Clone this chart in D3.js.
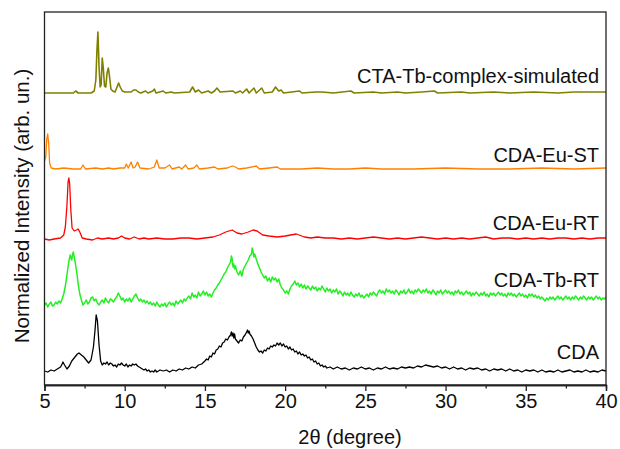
<!DOCTYPE html>
<html>
<head>
<meta charset="utf-8">
<script src="https://cdn.jsdelivr.net/npm/d3@7"></script>
<style>
  html, body { margin: 0; padding: 0; background: #fff; }
  svg { display: block; font-family: Arial, "Liberation Sans", sans-serif; }
</style>
</head>
<body>
<svg id="chart" width="620" height="449"></svg>
<script>
// ---------- data (2θ in degrees, normalized intensity incl. stacking offset) ----------
const seriesNames = ["CTA-Tb-complex-simulated", "CDA-Eu-ST", "CDA-Eu-RT", "CDA-Tb-RT", "CDA"];
const seriesColors = ["#808000", "#ff8000", "#ff0000", "#22ee22", "#000000"];
const xTicks = [5, 10, 15, 20, 25, 30, 35, 40];
const xMinorTicks = [7.5, 12.5, 17.5, 22.5, 27.5, 32.5, 37.5];

const ctaSim = [[5,292],[6.8,292],[6.94,294],[7.1,292],[7.9,292],[8.1,294],[8.2,305],[8.27,335],[8.33,353],[8.4,318],[8.47,298],[8.53,300],[8.6,327],[8.66,318],[8.74,299],[8.82,298],[8.9,312],[8.98,317],[9.05,309],[9.14,296],[9.25,294],[9.4,293],[9.52,298],[9.62,302],[9.72,298],[9.85,294],[10.0,293],[10.4,293],[10.55,295],[10.7,295],[10.85,293],[11.0,292],[11.3,294],[11.45,292],[11.75,294],[11.85,296],[11.95,292],[12.4,294],[12.55,292],[12.9,293],[13.1,292],[14.05,293],[14.23,298],[14.4,293],[14.6,295],[14.8,292],[15.2,294],[15.4,292],[15.6,294],[15.75,297],[15.95,293],[16.75,294],[16.9,292],[17.2,294],[17.35,292],[17.6,296],[17.75,292],[18.06,297],[18.2,292],[18.54,297],[18.7,292],[19.2,293],[19.4,298],[19.6,294],[19.75,295],[19.9,292],[20.9,294],[21.05,292],[21.9,293],[22.3,293],[23.0,292],[24.1,294],[24.3,292],[25.5,293],[26.0,292],[27.0,293],[27.5,292],[28.5,293],[29.3,294],[29.5,292],[31,293],[31.5,292],[33,293],[34,292],[35.5,293],[37,292],[38,293],[40,293]];

const cdaEuST = [[5.0,224],[5.08,228],[5.14,246],[5.2,251],[5.26,242],[5.32,222],[5.42,217],[5.7,216],[6.2,217],[6.8,216],[7.25,216],[7.4,220],[7.55,216],[8.2,217],[8.6,216],[9.0,217],[9.3,216],[9.7,217],[10.0,217],[10.1,221],[10.22,217],[10.4,223],[10.52,217],[10.65,218],[10.8,223],[10.95,217],[11.5,216],[11.85,218],[12.0,225],[12.15,217],[12.5,217],[12.8,220],[12.95,216],[13.4,218],[13.55,216],[13.8,220],[13.95,216],[14.3,217],[14.5,220],[14.65,216],[15.2,217],[15.6,218],[15.8,216],[16.4,217],[16.7,219],[16.9,218],[17.1,216],[17.6,217],[18.2,219],[18.4,216],[19.0,217],[19.5,218],[19.7,216],[21,216],[22,217],[23,216],[24,216],[25,217],[26,216],[28,216],[30,217],[32,216],[34,216],[36,217],[38,216],[40,217]];

const cdaEuRT = [[5,146],[5.3,145],[5.6,146],[6.0,147],[6.2,150],[6.3,158],[6.4,180],[6.47,203],[6.52,207],[6.57,201],[6.64,175],[6.72,157],[6.85,154],[7.0,155],[7.1,156],[7.2,153],[7.35,147],[7.6,146],[8.0,145],[8.3,147],[8.6,146],[9.0,147],[9.3,146],[9.6,147],[9.8,149],[10.0,147],[10.3,146],[10.6,148],[10.9,146],[11.2,147],[11.5,146],[12.0,147],[12.5,146],[13,146],[13.5,147],[14,147],[14.5,146],[15,147],[15.5,148],[15.9,150],[16.3,153],[16.7,155],[17.0,152],[17.3,151],[17.7,153],[18.0,155],[18.25,154],[18.6,150],[19.0,149],[19.5,148],[20.0,149],[20.7,151],[21.2,148],[21.6,147],[22,148],[22.5,147],[23,147],[23.5,146],[24,147],[24.5,146],[25,147],[25.5,148],[26,147],[26.5,146],[27,147],[27.5,146],[28,147],[28.5,148],[29,147],[29.5,146],[30,147],[30.5,146],[31,147],[31.5,146],[32,147],[32.5,148],[33,146],[33.5,147],[34,147],[34.5,146],[35,147],[35.5,146],[36,147],[36.5,146],[37,147],[37.5,147],[38,146],[38.5,147],[39,146],[39.5,147],[40,147]];

const cdaTbRT = [[5.0,80],[5.1,82],[5.2,78],[5.3,81],[5.4,83],[5.5,79],[5.6,80],[5.7,83],[5.8,81],[5.9,84],[6.0,82],[6.1,86],[6.2,91],[6.3,99],[6.4,110],[6.5,122],[6.6,130],[6.65,127],[6.7,125],[6.75,131],[6.8,133],[6.85,128],[6.9,124],[7.0,114],[7.1,101],[7.2,91],[7.3,85],[7.4,80],[7.5,82],[7.6,85],[7.7,81],[7.8,83],[7.9,87],[8.0,88],[8.1,84],[8.2,86],[8.3,82],[8.4,80],[8.5,83],[8.6,85],[8.7,82],[8.8,87],[8.9,84],[9.0,82],[9.1,86],[9.2,85],[9.3,83],[9.4,86],[9.5,88],[9.6,92],[9.7,89],[9.8,85],[9.9,87],[10.0,83],[10.1,86],[10.2,84],[10.3,87],[10.4,83],[10.5,86],[10.6,89],[10.7,91],[10.8,87],[10.9,84],[11.0,86],[11.1,83],[11.2,85],[11.3,82],[11.4,84],[11.5,81],[11.6,83],[11.7,80],[11.8,82],[11.9,79],[12.0,83],[12.1,80],[12.2,78],[12.3,81],[12.4,79],[12.5,82],[12.6,78],[12.7,81],[12.8,83],[12.9,80],[13.0,82],[13.1,79],[13.2,84],[13.3,81],[13.4,83],[13.5,85],[13.6,82],[13.7,86],[13.8,84],[13.9,87],[14.0,89],[14.1,86],[14.2,92],[14.3,88],[14.4,90],[14.5,87],[14.6,93],[14.7,89],[14.8,91],[14.9,94],[15.0,90],[15.1,93],[15.2,89],[15.3,91],[15.4,88],[15.5,92],[15.6,95],[15.7,97],[15.8,100],[15.9,102],[16.0,105],[16.1,108],[16.2,111],[16.3,113],[16.4,117],[16.5,120],[16.6,123],[16.65,129],[16.7,126],[16.75,118],[16.8,121],[16.85,116],[16.9,119],[17.0,113],[17.1,110],[17.2,114],[17.3,109],[17.4,116],[17.5,119],[17.6,122],[17.7,125],[17.8,129],[17.9,131],[17.95,137],[18.0,133],[18.05,128],[18.1,131],[18.2,126],[18.3,121],[18.4,117],[18.5,113],[18.6,110],[18.7,107],[18.8,109],[18.9,104],[19.0,107],[19.1,103],[19.2,108],[19.3,105],[19.4,107],[19.5,103],[19.6,106],[19.7,100],[19.8,97],[19.9,95],[20.0,92],[20.1,94],[20.2,91],[20.3,96],[20.4,99],[20.5,101],[20.6,104],[20.7,100],[20.8,102],[20.9,98],[21.0,101],[21.1,97],[21.2,100],[21.3,96],[21.4,99],[21.5,97],[21.6,95],[21.7,99],[21.8,96],[21.9,98],[22.0,94],[22.1,97],[22.2,95],[22.3,99],[22.4,96],[22.5,93],[22.6,97],[22.7,94],[22.8,96],[22.9,92],[23.0,95],[23.1,93],[23.2,96],[23.3,91],[23.4,94],[23.5,92],[23.6,89],[23.7,93],[23.8,90],[23.9,92],[24.0,89],[24.1,93],[24.2,90],[24.3,88],[24.4,91],[24.5,89],[24.6,92],[24.7,88],[24.8,90],[24.9,87],[25.0,89],[25.1,91],[25.2,88],[25.3,92],[25.4,90],[25.5,93],[25.6,91],[25.7,89],[25.8,93],[25.9,95],[26.0,92],[26.1,94],[26.2,91],[26.3,96],[26.4,93],[26.5,95],[26.6,92],[26.7,94],[26.8,91],[26.9,95],[27.0,93],[27.1,90],[27.2,94],[27.3,92],[27.4,95],[27.5,91],[27.6,93],[27.7,96],[27.8,92],[27.9,94],[28.0,91],[28.1,95],[28.2,93],[28.3,96],[28.4,94],[28.5,92],[28.6,95],[28.7,93],[28.8,96],[28.9,92],[29.0,94],[29.1,91],[29.2,95],[29.3,93],[29.4,90],[29.5,94],[29.6,92],[29.7,95],[29.8,91],[29.9,93],[30.0,95],[30.1,92],[30.2,94],[30.3,91],[30.4,93],[30.5,90],[30.6,94],[30.7,92],[30.8,95],[30.9,91],[31.0,93],[31.1,90],[31.2,92],[31.3,94],[31.4,91],[31.5,93],[31.6,89],[31.7,92],[31.8,90],[31.9,93],[32.0,91],[32.1,89],[32.2,92],[32.3,90],[32.4,93],[32.5,89],[32.6,91],[32.7,88],[32.8,92],[32.9,90],[33.0,92],[33.1,89],[33.2,91],[33.3,93],[33.4,90],[33.5,92],[33.6,89],[33.7,91],[33.8,88],[33.9,92],[34.0,90],[34.1,92],[34.2,89],[34.3,91],[34.4,88],[34.5,90],[34.6,92],[34.7,89],[34.8,91],[34.9,88],[35.0,90],[35.1,87],[35.2,91],[35.3,89],[35.4,91],[35.5,88],[35.6,90],[35.7,87],[35.8,89],[35.9,86],[36.0,88],[36.1,86],[36.2,84],[36.3,87],[36.4,85],[36.5,88],[36.6,86],[36.7,88],[36.8,85],[36.9,87],[37.0,89],[37.1,86],[37.2,88],[37.3,85],[37.4,87],[37.5,89],[37.6,86],[37.7,88],[37.8,85],[37.9,88],[38.0,86],[38.1,89],[38.2,87],[38.3,85],[38.4,88],[38.5,86],[38.6,89],[38.7,87],[38.8,85],[38.9,88],[39.0,86],[39.1,88],[39.2,85],[39.3,87],[39.4,89],[39.5,86],[39.6,88],[39.7,85],[39.8,87],[39.9,86],[40.0,88]];

const cda = [[5.0,14],[5.2,13],[5.4,15],[5.6,14],[5.8,16],[6.0,18],[6.1,21],[6.15,23],[6.25,20],[6.4,16],[6.55,19],[6.7,24],[6.9,28],[7.05,31],[7.15,32],[7.3,30],[7.45,28],[7.6,25],[7.75,22],[7.9,25],[8.05,38],[8.15,55],[8.22,70],[8.3,64],[8.4,40],[8.5,24],[8.6,20],[8.7,22],[8.8,21],[8.9,23],[9.0,20],[9.1,22],[9.2,21],[9.3,19],[9.4,20],[9.5,18],[9.6,21],[9.7,20],[9.8,22],[9.9,20],[10.0,19],[10.1,21],[10.2,18],[10.3,20],[10.4,19],[10.5,21],[10.6,20],[10.7,21],[10.8,19],[10.9,18],[11.0,17],[11.1,16],[11.2,15],[11.3,16],[11.4,14],[11.5,15],[11.6,13],[11.7,14],[11.8,13],[11.9,15],[12.0,13],[12.2,15],[12.4,14],[12.6,15],[12.8,13],[13.0,15],[13.2,14],[13.4,16],[13.6,15],[13.8,17],[14.0,16],[14.2,18],[14.4,17],[14.6,20],[14.8,21],[15.0,24],[15.1,26],[15.2,25],[15.3,29],[15.4,28],[15.5,32],[15.6,31],[15.7,35],[15.8,36],[15.9,39],[16.0,38],[16.1,42],[16.2,43],[16.3,46],[16.4,45],[16.5,48],[16.6,50],[16.65,53],[16.7,49],[16.75,52],[16.8,47],[16.85,51],[16.9,46],[17.0,44],[17.1,42],[17.2,45],[17.3,44],[17.4,48],[17.5,50],[17.6,53],[17.65,55],[17.7,52],[17.75,54],[17.8,51],[17.9,49],[18.0,46],[18.1,42],[18.2,38],[18.3,35],[18.4,33],[18.5,34],[18.6,32],[18.7,35],[18.8,34],[18.9,37],[19.0,36],[19.1,39],[19.2,38],[19.3,40],[19.4,39],[19.5,42],[19.6,40],[19.7,42],[19.8,39],[19.9,41],[20.0,38],[20.1,39],[20.2,36],[20.3,38],[20.4,35],[20.5,36],[20.6,33],[20.7,34],[20.8,31],[20.9,33],[21.0,30],[21.1,31],[21.2,29],[21.3,30],[21.4,27],[21.5,28],[21.6,25],[21.7,26],[21.8,23],[21.9,24],[22.0,21],[22.1,22],[22.2,19],[22.3,20],[22.4,18],[22.5,19],[22.6,17],[22.8,18],[23.0,16],[23.25,18],[23.5,16],[23.75,17],[24.0,15],[24.25,17],[24.5,16],[24.75,18],[25.0,16],[25.25,17],[25.5,15],[25.75,17],[26.0,16],[26.25,18],[26.5,16],[26.75,17],[27.0,16],[27.25,18],[27.5,17],[27.75,18],[28.0,17],[28.25,19],[28.5,18],[28.75,20],[29.0,19],[29.25,18],[29.5,19],[29.75,17],[30.0,18],[30.25,16],[30.5,18],[30.75,16],[31.0,17],[31.25,15],[31.5,17],[31.75,16],[32.0,17],[32.25,15],[32.5,16],[32.75,14],[33.0,16],[33.25,15],[33.5,16],[33.75,14],[34.0,16],[34.25,14],[34.5,15],[34.75,13],[35.0,15],[35.25,14],[35.5,15],[35.75,13],[36.0,15],[36.25,13],[36.5,14],[36.75,13],[37.0,15],[37.25,13],[37.5,14],[37.75,15],[38.0,13],[38.25,14],[38.5,13],[38.75,15],[39.0,13],[39.25,14],[39.5,13],[39.75,15],[40.0,14]];

const seriesData = [ctaSim, cdaEuST, cdaEuRT, cdaTbRT, cda];
// label heights (same intensity units as the data)
const labelLevels = [302, 223, 155, 98, 26];

// ---------- layout ----------
const svg = d3.select("#chart");
const margin = { left: 44.5, right: 14, top: 12, bottom: 64 };
const W = 620, H = 449;
const x = d3.scaleLinear().domain([5, 40]).range([margin.left, W - margin.right]);
const y = d3.scaleLinear().domain([0, 373]).range([H - margin.bottom, margin.top]);

const line = d3.line().x(d => x(d[0])).y(d => y(d[1]));

svg.append("defs").append("clipPath").attr("id", "clip")
  .append("rect")
  .attr("x", x(5)).attr("y", y(373))
  .attr("width", x(40) - x(5)).attr("height", y(0) - y(373));

const g = svg.append("g").attr("clip-path", "url(#clip)");
seriesData.forEach((d, i) => {
  g.append("path")
    .datum(d)
    .attr("fill", "none")
    .attr("stroke", seriesColors[i])
    .attr("stroke-width", i === 0 ? 1.6 : (i === 3 ? 1.5 : 1.3))
    .attr("stroke-linejoin", "round")
    .attr("d", line);
});

// labels
seriesNames.forEach((name, i) => {
  svg.append("text")
    .attr("x", x(40) - 7)
    .attr("y", y(labelLevels[i]))
    .attr("text-anchor", "end")
    .attr("font-size", 20)
    .attr("fill", "#111")
    .text(name);
});

// frame
svg.append("rect")
  .attr("x", x(5)).attr("y", y(373))
  .attr("width", x(40) - x(5)).attr("height", y(0) - y(373))
  .attr("fill", "none").attr("stroke", "#222").attr("stroke-width", 1.3);

// x axis (major + minor ticks)
const axisG = svg.append("g").attr("transform", `translate(0,${y(0)})`);
axisG.call(d3.axisBottom(x).tickValues(xTicks).tickSize(6).tickPadding(3).tickFormat(d3.format("d")));
axisG.append("g").call(d3.axisBottom(x).tickValues(xMinorTicks).tickSize(3.5).tickFormat(""));
axisG.selectAll(".domain").attr("stroke", "#222").attr("stroke-width", 1.3);
axisG.selectAll(".tick line").attr("stroke", "#222").attr("stroke-width", 1.3);
axisG.selectAll(".tick text").attr("font-size", 20).attr("fill", "#111")
  .attr("font-family", "Arial, 'Liberation Sans', sans-serif");

// axis titles
svg.append("text")
  .attr("x", 350).attr("y", 444)
  .attr("text-anchor", "middle").attr("font-size", 20).attr("fill", "#111")
  .text("2θ (degree)");

svg.append("text")
  .attr("transform", "translate(29,206) rotate(-90)")
  .attr("text-anchor", "middle").attr("font-size", 20.5).attr("fill", "#111")
  .text("Normalized Intensity (arb. un.)");
</script>
</body>
</html>
